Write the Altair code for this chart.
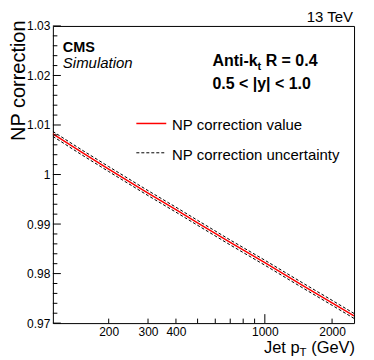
import altair as alt
import pandas as pd

FONT = "Liberation Sans"

# ---- data ----
pt = [112.5, 150, 200, 300, 400, 500, 700, 1000, 1500, 2000, 2508]
np_value = [1.0082, 1.0046, 1.0011, 0.99625, 0.9929, 0.99025, 0.98628, 0.9822, 0.97743, 0.9741, 0.97145]
np_up = [1.0087, 1.0051, 1.0016, 0.99675, 0.9934, 0.99075, 0.98678, 0.9827, 0.97793, 0.9746, 0.97195]
np_down = [1.0077, 1.0041, 1.0006, 0.99575, 0.9924, 0.98975, 0.98578, 0.9817, 0.97693, 0.9736, 0.97095]

x_labels = [200, 300, 400, 1000, 2000]
x_ticks_short = [200, 300, 400, 500, 600, 700, 800, 900, 2000]
x_ticks_long = [1000]
y_labels = [0.97, 0.98, 0.99, 1.00, 1.01, 1.02, 1.03]
y_minor = [0.972, 0.974, 0.976, 0.978, 0.982, 0.984, 0.986, 0.988,
           0.992, 0.994, 0.996, 0.998, 1.002, 1.004, 1.006, 1.008,
           1.012, 1.014, 1.016, 1.018, 1.022, 1.024, 1.026, 1.028]

W, H = 302, 298

df = pd.DataFrame({"pt": pt, "nominal": np_value, "up": np_up, "down": np_down})

xscale = alt.Scale(type="log", domain=[112.5, 2508], nice=False)
yscale = alt.Scale(domain=[0.97, 1.03], nice=False, zero=False)

x_axis = alt.Axis(values=x_labels, format="d", ticks=False, domain=False, grid=False,
                  labelFontSize=12, labelPadding=3, title=None, labelFont=FONT,
                  labelColor="black", labelFlush=False)
y_axis = alt.Axis(values=y_labels, format=".2~f", ticks=False, domain=False, grid=False,
                  labelFontSize=12, labelPadding=3, title=None, labelFont=FONT,
                  labelColor="black", labelFlush=False)

base = alt.Chart(df)
value_line = base.mark_line(color="#ff0000", strokeWidth=1.5, clip=True).encode(
    x=alt.X("pt:Q", scale=xscale, axis=x_axis),
    y=alt.Y("nominal:Q", scale=yscale, axis=y_axis),
)
up_line = base.mark_line(color="black", strokeWidth=1, strokeDash=[3, 2], clip=True).encode(
    x=alt.X("pt:Q", scale=xscale, axis=x_axis),
    y=alt.Y("up:Q", scale=yscale, axis=y_axis),
)
down_line = base.mark_line(color="black", strokeWidth=1, strokeDash=[3, 2], clip=True).encode(
    x=alt.X("pt:Q", scale=xscale, axis=x_axis),
    y=alt.Y("down:Q", scale=yscale, axis=y_axis),
)

def yticks(vals, length):
    return alt.Chart(pd.DataFrame({"v": vals})).mark_rule(color="black", strokeWidth=1).encode(
        y=alt.Y("v:Q", scale=yscale, axis=y_axis), x=alt.value(0), x2=alt.value(length))

def xticks(vals, length):
    return alt.Chart(pd.DataFrame({"v": vals})).mark_rule(color="black", strokeWidth=1).encode(
        x=alt.X("v:Q", scale=xscale, axis=x_axis), y=alt.value(H), y2=alt.value(H - length))

def label(text, x, y, size, weight="normal", style="normal", align="left",
          baseline="alphabetic", angle=0):
    return alt.Chart(pd.DataFrame({"t": [text]})).mark_text(
        align=align, baseline=baseline, fontSize=size, fontWeight=weight,
        fontStyle=style, angle=angle, font=FONT, color="black").encode(
        text="t:N", x=alt.value(x), y=alt.value(y))

def seg(x1, x2, y, color, width, dash=None):
    kw = dict(color=color, strokeWidth=width)
    if dash:
        kw["strokeDash"] = dash
    return alt.Chart(pd.DataFrame({"t": [0]})).mark_rule(**kw).encode(
        x=alt.value(x1), x2=alt.value(x2), y=alt.value(y))

layers = [
    value_line, up_line, down_line,
    yticks(y_labels, 8), yticks(y_minor, 4.5),
    xticks(x_ticks_short, 4.5), xticks(x_ticks_long, 9),
    label("13 TeV", W - 1, -4, 15, align="right"),
    label("CMS", 10, 26.2, 14.5, weight="bold"),
    label("Simulation", 10, 42.5, 15, style="italic"),
    label("Anti-k", 160, 40.5, 16, weight="bold"),
    label("t", 205.3, 44, 11, weight="bold"),
    label("R = 0.4", 213.4, 40.5, 16, weight="bold"),
    label("0.5 < |y| < 1.0", 160, 62.8, 16, weight="bold"),
    seg(83.7, 113.7, 97.8, "#ff0000", 1.5),
    label("NP correction value", 119.5, 99, 15, baseline="middle"),
    seg(83.7, 113.7, 127.2, "black", 1, [3, 2]),
    label("NP correction uncertainty", 119.5, 129, 15, baseline="middle"),
    label("NP correction", -27.7, -5.5, 20, align="right", angle=270),
    label("(GeV)", W + 1, 327.5, 16.5, align="right"),
    label("T", 254.4, 331, 11.5, align="right"),
    label("Jet p", 247.4, 327.5, 16.5, align="right"),
]

chart = alt.layer(*layers).properties(
    width=W, height=H,
    autosize=alt.AutoSizeParams(type="none"),
    padding={"left": 45, "top": 17.5, "right": 12, "bottom": 36},
).configure(font=FONT).configure_view(stroke="black", strokeWidth=1)

chart.save("out.html", embed_options={"renderer": "svg", "actions": False})
